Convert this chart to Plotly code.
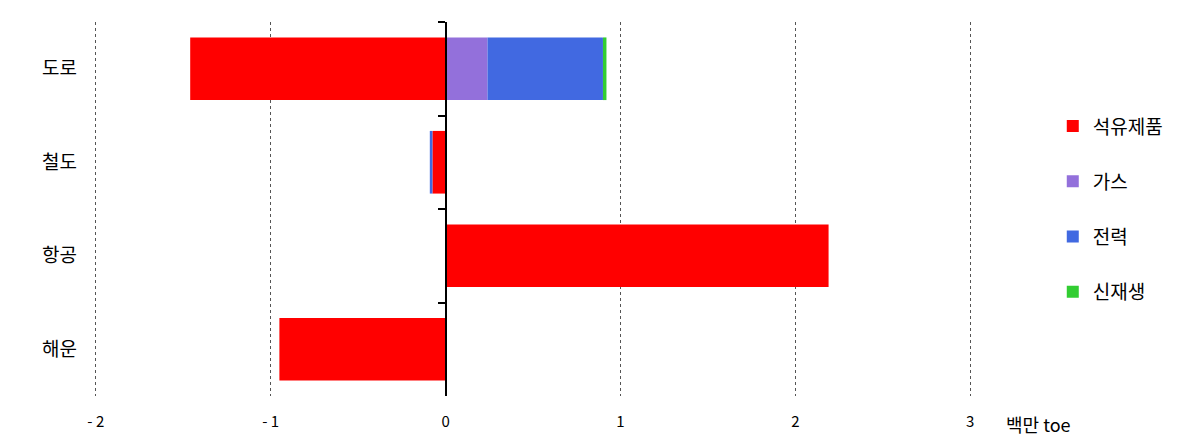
import plotly.graph_objects as go

categories = ["도로", "철도", "항공", "해운"]
series_names = ["석유제품", "가스", "전력", "신재생"]
petroleum = [-1.46, -0.075, 2.19, -0.95]
gas = [0.24, 0.0, 0.0, 0.0]
electricity = [0.66, -0.015, 0.0, 0.0]
renewable = [0.02, 0.0, 0.0, 0.0]
colors = ["#ff0000", "#9370db", "#4169e1", "#32cd32"]
x_tickvals = [-2, -1, 0, 1, 2, 3]
x_ticktext = ["- 2", "- 1", "0", "1", "2", "3"]

FONT = "Noto Sans CJK KR, Liberation Sans, sans-serif"
xmin, xmax = -2.01, 3.01

fig = go.Figure()
for name, vals, col in zip(series_names, [petroleum, gas, electricity, renewable], colors):
    fig.add_trace(go.Bar(
        y=categories, x=vals, name=name, orientation="h",
        marker=dict(color=col, line=dict(width=0)),
        legendgroup=name,
    ))

# invisible trace to carry the axis drawn at x=0
fig.add_trace(go.Scatter(
    y=categories, x=[0] * len(categories), yaxis="y2", mode="markers",
    marker=dict(size=0.1, opacity=0), showlegend=False, hoverinfo="skip",
))

fig.update_layout(
    width=1200, height=440,
    barmode="relative", bargap=0.33,
    plot_bgcolor="white", paper_bgcolor="white",
    margin=dict(l=94, r=228, t=22, b=44, autoexpand=False),
    font=dict(family=FONT, size=15, color="#000000"),
    xaxis=dict(
        range=[xmin, xmax], tickvals=x_tickvals, ticktext=x_ticktext,
        showgrid=True, gridcolor="#555555", griddash="dot", gridwidth=1,
        zeroline=False, showline=False, ticks="", ticklabelstandoff=15,
        tickfont=dict(size=15), automargin=False,
    ),
    yaxis=dict(
        type="category", categoryarray=categories, range=[3.5, -0.5],
        showgrid=False, zeroline=False, showline=False, ticks="",
        ticklabelstandoff=16, tickfont=dict(size=19), automargin=False,
    ),
    yaxis2=dict(
        type="category", categoryarray=categories, range=[3.5, -0.5],
        overlaying="y", anchor="free", side="left",
        position=(0 - xmin) / (xmax - xmin),
        showline=True, linecolor="#000000", linewidth=2,
        ticks="outside", tickson="boundaries", ticklen=7, tickwidth=2, tickcolor="#000000",
        showticklabels=False, showgrid=False, zeroline=False, automargin=False,
    ),
    legend=dict(
        x=1.092, y=0.772, xanchor="left", yanchor="top",
        font=dict(size=19), tracegroupgap=27.5, traceorder="grouped",
        itemwidth=30,
    ),
    annotations=[dict(
        text="백만 toe", xref="paper", yref="paper", x=1.036, y=0,
        xanchor="left", yanchor="top", yshift=-13, showarrow=False,
        font=dict(size=18),
    )],
)

fig.write_html("out.html", config={"displayModeBar": False},
               post_script="document.body.style.margin='0';")
